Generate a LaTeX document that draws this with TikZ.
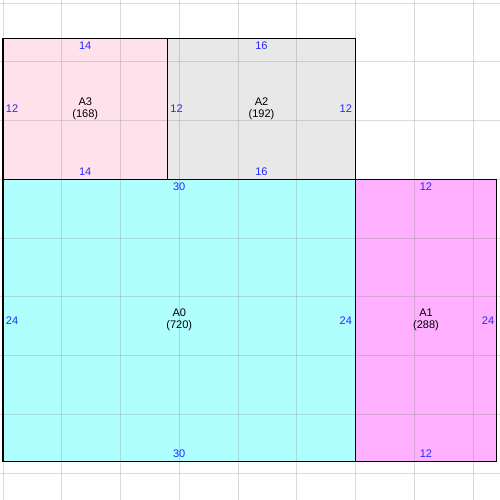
\documentclass[tikz,border=0pt]{standalone}
\usepackage{fontspec}
\setmainfont{Liberation Sans}

\definecolor{fillAzero}{HTML}{B0FFFF}
\definecolor{fillAone}{HTML}{FFB0FF}
\definecolor{fillAtwo}{HTML}{E8E8E8}
\definecolor{fillAthree}{HTML}{FFE1EC}
\definecolor{dimblue}{RGB}{40,40,255}

\tikzset{
  room/.style={draw=black, line width=0.8pt},
  gridline/.style={draw=black!48, opacity=0.3, line width=0.7pt},
  dimtext/.style={text=dimblue, font=\fontsize{8.3}{9}\selectfont, inner sep=1pt},
  roomname/.style={align=center, font=\fontsize{8.3}{9}\selectfont, inner sep=0pt},
}

\begin{document}
\begin{tikzpicture}[x=0.31088cm, y=-0.31088cm]
    \useasboundingbox (-0.2553,-0.2553) rectangle (42.298,42.298);

    \fill [fillAthree] (0,3) rectangle (14,15);
    \fill [fillAtwo] (14,3) rectangle (30,15);
    \fill [fillAzero] (0,15) rectangle (30,39);
    \fill [fillAone] (30,15) rectangle (42,39);

    \foreach \k in {0,5,...,40} {
      \draw [gridline] (\k,-1) -- (\k,43);
      \draw [gridline] (-1,\k) -- (43,\k);
    }

    \draw [room] (0,3) rectangle (14,15);
    \draw [room] (14,3) rectangle (30,15);
    \draw [room] (0,15) rectangle (30,39);
    \draw [room] (30,15) rectangle (42,39);

    \node [roomname] (a3) at (7,9) {A3\\(168)};
    \node [dimtext, below=1.5pt] (a3-top) at (7,3) {14};
    \node [dimtext, above=1.5pt] (a3-bottom) at (7,15) {14};
    \node [dimtext, right=1pt] (a3-left) at (0,9) {12};

    \node [roomname] (a2) at (22,9) {A2\\(192)};
    \node [dimtext, below=1.5pt] (a2-top) at (22,3) {16};
    \node [dimtext, above=1.5pt] (a2-bottom) at (22,15) {16};
    \node [dimtext, right=1pt] (a2-left) at (14,9) {12};
    \node [dimtext, left=1.5pt] (a2-right) at (30,9) {12};

    \node [roomname] (a0) at (15,27) {A0\\(720)};
    \node [dimtext, below=1.5pt] (a0-top) at (15,15) {30};
    \node [dimtext, above=1.5pt] (a0-bottom) at (15,39) {30};
    \node [dimtext, right=1pt] (a0-left) at (0,27) {24};
    \node [dimtext, left=1.5pt] (a0-right) at (30,27) {24};

    \node [roomname] (a1) at (36,27) {A1\\(288)};
    \node [dimtext, below=1.5pt] (a1-top) at (36,15) {12};
    \node [dimtext, above=1.5pt] (a1-bottom) at (36,39) {12};
    \node [dimtext, left=0.5pt] (a1-right) at (42,27) {24};
\end{tikzpicture}
\end{document}
